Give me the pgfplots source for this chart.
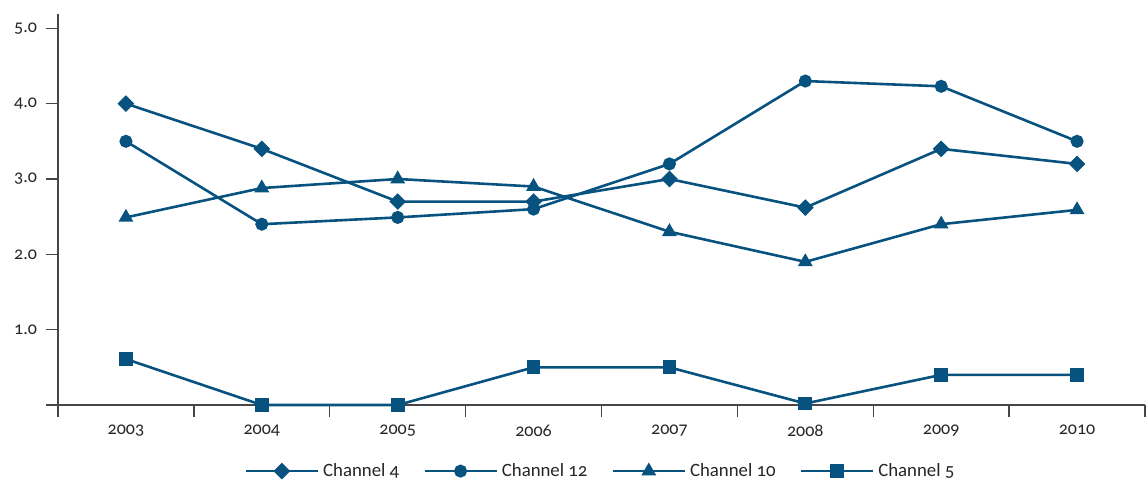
\documentclass[border=0pt]{standalone}
\usepackage{fontspec}
\setmainfont{Carlito}[Numbers=OldStyle]
\usepackage{pgfplots}
\pgfplotsset{compat=1.18}
\definecolor{ln}{RGB}{8,82,128}
\definecolor{ax}{RGB}{70,70,70}
\begin{document}
\begin{tikzpicture}
\begin{axis}[
  scale only axis,
  width=543.5pt, height=195.5pt,
  xmin=-0.5, xmax=7.5, ymin=0, ymax=5.19,
  axis x line=bottom, axis y line=left,
  axis line style={ax, line width=0.7pt, -},
  xtick={0,...,7},
  xticklabels={\textnormal{2003},\textnormal{2004},\textnormal{2005},\textnormal{2006},\textnormal{2007},\textnormal{2008},\textnormal{2009},\textnormal{2010}},
  minor xtick={-0.5,0.5,...,7.5},
  major x tick style={draw=none},
  minor tick length=6pt,
  major tick length=6pt,
  tick align=outside,
  tick style={ax, line width=0.7pt},
  ytick={0,1,2,3,4,5},
  yticklabels={,\textnormal{1.0},\textnormal{2.0},\textnormal{3.0},\textnormal{4.0},\textnormal{5.0}},
  /pgf/number format/assume math mode=true,
  tick label style={font=\fontsize{9}{10}\selectfont, text=black!85},
  xticklabel style={yshift=-0.5pt},
  yticklabel style={xshift=-1pt},
  every axis plot/.append style={ln, line width=1.3pt},
  clip=false,
  legend style={draw=none, at={(0.5,-0.169)}, anchor=center, legend columns=-1,
     font=\fontsize{9.4}{10}\selectfont, text=black!85, /tikz/every even column/.append style={column sep=10pt}},
  legend image code/.code={
    \draw[line width=1.3pt] (0pt,0pt) -- (36pt,0pt);
    \draw[line width=1.3pt] plot coordinates {(18pt,0pt)};
  },
]
\addplot[mark=square*, mark size=2.3pt, mark options={rotate=45}] coordinates {
 (0,4.0) (1,3.4) (2,2.7) (3,2.7) (4,3.0) (5,2.62) (6,3.4) (7,3.2)};
\addlegendentry{Channel 4}
\addplot[mark=*, mark size=2.6pt] coordinates {
 (0,3.5) (1,2.4) (2,2.49) (3,2.6) (4,3.2) (5,4.3) (6,4.23) (7,3.5)};
\addlegendentry{Channel 12}
\addplot[mark=triangle*, mark size=3pt] coordinates {
 (0,2.49) (1,2.88) (2,3.0) (3,2.9) (4,2.3) (5,1.9) (6,2.4) (7,2.59)};
\addlegendentry{Channel 10}
\addplot[mark=square*, mark size=2.8pt] coordinates {
 (0,0.61) (1,0.0) (2,0.0) (3,0.5) (4,0.5) (5,0.02) (6,0.4) (7,0.4)};
\addlegendentry{Channel 5}
\path (rel axis cs:0,0) ++(-29pt,-38pt);
\path (rel axis cs:1,1) ++(1.5pt,7pt);
\end{axis}
\end{tikzpicture}
\end{document}
